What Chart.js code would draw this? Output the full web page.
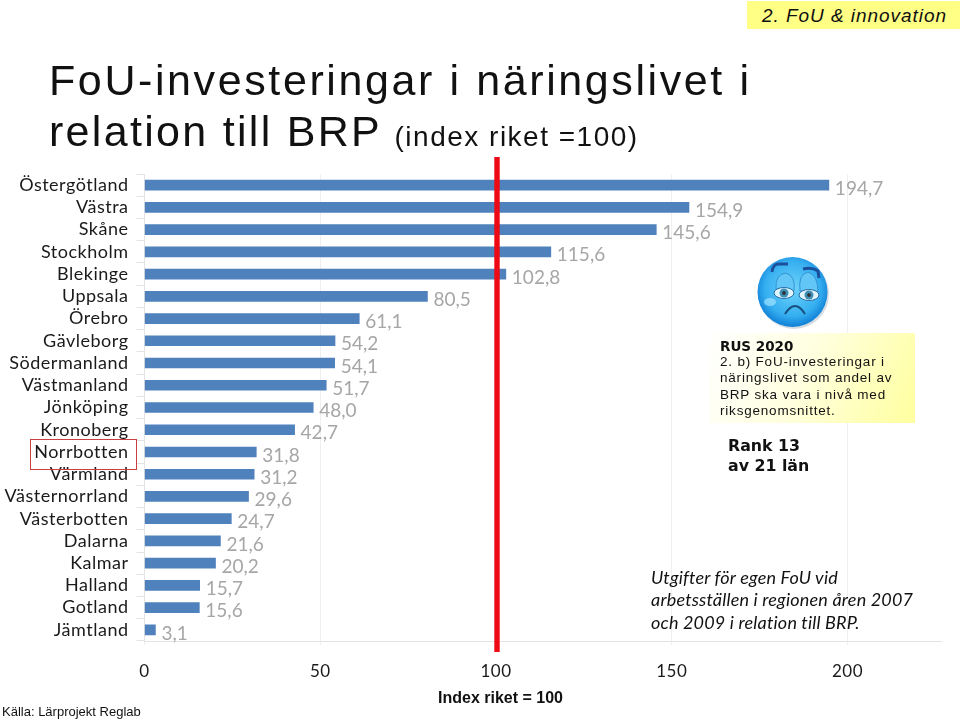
<!DOCTYPE html>
<html lang="sv">
<head>
<meta charset="utf-8">
<title>FoU-investeringar i näringslivet</title>
<script src="https://cdn.jsdelivr.net/npm/chart.js@4"></script>
<style>
	html, body { margin: 0; padding: 0; background: #fff; width: 960px; height: 721px; overflow: hidden; }
	#myCanvas { position: absolute; left: 0; top: 0; }
	.txt { position: absolute; white-space: nowrap; font-family: "Liberation Sans", Arial, sans-serif; color: #111; }
	#section { left: 747px; top: 1px; width: 213px; height: 28px; background: #ffff85; font-style: italic; font-size: 19px; line-height: 29px; letter-spacing: 0.95px; text-indent: 15px; }
	#title1 { left: 49px; top: 55px; font-size: 43px; line-height: 50px; letter-spacing: 2.6px; }
	#title2 { left: 49px; top: 106px; font-size: 43px; line-height: 50px; letter-spacing: 2.3px; }
	#title2 span { font-size: 28px; letter-spacing: 1.5px; margin-left: -1px; }
	#rus { left: 709px; top: 333px; width: 206px; height: 90px; background: linear-gradient(115deg, #ffffff 0%, #ffffe0 45%, #ffff9f 100%); }
	#rusHead { left: 720px; top: 338px; font-family: "DejaVu Sans", sans-serif; font-weight: bold; font-size: 13.5px; line-height: 17px; }
	#rusText { left: 720px; top: 354px; font-size: 13.5px; line-height: 16.4px; letter-spacing: 0.8px; }
	#rank { left: 728px; top: 436px; font-family: "DejaVu Sans", sans-serif; font-weight: bold; font-size: 15.8px; line-height: 20px; }
	#note { left: 651px; top: 566px; font-family: Lato, sans-serif; font-style: italic; font-size: 18px; line-height: 22.4px; letter-spacing: 0.18px; color: #111; }
	#indexRiket { left: 438px; top: 689px; font-weight: bold; font-size: 16px; line-height: 18px; }
	#source { left: 2px; top: 704px; font-size: 13px; line-height: 16px; }
	#smiley { position: absolute; left: 752px; top: 252px; }
	#redBox { position: absolute; left: 30px; top: 439px; width: 105px; height: 29px; border: 1.5px solid #c9403f; }
</style>
</head>
<body>
<canvas id="myCanvas" width="960" height="721"></canvas>

<div class="txt" id="section">2. FoU &amp; innovation</div>
<div class="txt" id="title1">FoU-investeringar i näringslivet i</div>
<div class="txt" id="title2">relation till BRP <span>(index riket =100)</span></div>
<div class="txt" id="rus"></div>
<div class="txt" id="rusHead">RUS 2020</div>
<div class="txt" id="rusText">2. b) FoU-investeringar i<br>näringslivet som andel av<br>BRP ska vara i nivå med<br>riksgenomsnittet.</div>
<div class="txt" id="rank">Rank 13<br>av 21 län</div>
<div class="txt" id="note">Utgifter för egen FoU vid<br>arbetsställen i regionen åren 2007<br>och 2009 i relation till BRP.</div>
<div class="txt" id="indexRiket">Index riket = 100</div>
<div class="txt" id="source">Källa: Lärprojekt Reglab</div>
<div id="redBox"></div>

<svg id="smiley" width="84" height="84" viewBox="0 0 84 84">
	<defs>
		<radialGradient id="faceFill" cx="50%" cy="45%" r="55%">
			<stop offset="0%" stop-color="#6fd4fb"/>
			<stop offset="72%" stop-color="#35aef0"/>
			<stop offset="100%" stop-color="#0f7fd6"/>
		</radialGradient>
	</defs>
	<circle cx="42" cy="42" r="35" fill="#8a9aa8" opacity="0.35"/>
	<circle cx="40.5" cy="40" r="35" fill="url(#faceFill)"/>
	<ellipse cx="18" cy="50" rx="6" ry="4" fill="#9fe3ff" opacity="0.7"/>
	<path d="M24 37 Q23 22 34 21 Q44 24 42 39Z" fill="#62c6f6" stroke="#2a86cc" stroke-width="0.8"/>
	<path d="M48 39 Q46 22 56 20 Q66 23 66 40Z" fill="#62c6f6" stroke="#2a86cc" stroke-width="0.8"/>
	<path d="M20 20 Q21 11 28 12 L36 12" fill="none" stroke="#1b4f9c" stroke-width="3"/>
	<path d="M51 17 Q60 15 66 19 L67 26" fill="none" stroke="#1b4f9c" stroke-width="3"/>
	<ellipse cx="32" cy="41" rx="10" ry="5.5" fill="#dff4fb" stroke="#2a6ea5" stroke-width="1"/>
	<ellipse cx="57" cy="43" rx="10" ry="5.5" fill="#dff4fb" stroke="#2a6ea5" stroke-width="1"/>
	<circle cx="32" cy="41" r="4.5" fill="#3f8fb5"/>
	<circle cx="57" cy="43" r="4.5" fill="#3f8fb5"/>
	<circle cx="32" cy="41" r="1.9" fill="#333"/>
	<circle cx="57" cy="43" r="1.9" fill="#333"/>
	<path d="M33 62 Q43 46 53 62" fill="none" stroke="#17507f" stroke-width="2"/>
</svg>

<script>
const regions = [
	"Östergötland",
	"Västra",
	"Skåne",
	"Stockholm",
	"Blekinge",
	"Uppsala",
	"Örebro",
	"Gävleborg",
	"Södermanland",
	"Västmanland",
	"Jönköping",
	"Kronoberg",
	"Norrbotten",
	"Värmland",
	"Västernorrland",
	"Västerbotten",
	"Dalarna",
	"Kalmar",
	"Halland",
	"Gotland",
	"Jämtland",
];
const indexValues = [
	194.7, 154.9, 145.6, 115.6, 102.8, 80.5, 61.1, 54.2, 54.1, 51.7, 48.0,
	42.7, 31.8, 31.2, 29.6, 24.7, 21.6, 20.2, 15.7, 15.6, 3.1,
];
const riket = 100;

// category labels are tracked out a bit in the original
const letterSpacing = {
	id: "letterSpacing",
	beforeDraw(chart) {
		chart.ctx.letterSpacing = "0.5px";
	},
};

// value labels (with decimal comma) and the red line at riket = 100
const overlay = {
	id: "overlay",
	afterDatasetsDraw(chart) {
		const ctx = chart.ctx;
		const x = chart.scales.x;
		const y = chart.scales.y;
		ctx.save();
		ctx.letterSpacing = "0px";
		ctx.font = '19px Lato, sans-serif';
		ctx.fillStyle = "#a6a6a6";
		ctx.textAlign = "left";
		ctx.textBaseline = "middle";
		indexValues.forEach(function (value, i) {
			const label = value.toFixed(1).replace(".", ",");
			ctx.fillText(label, x.getPixelForValue(value) + 6, y.getPixelForValue(i) + 3.5);
		});
		ctx.strokeStyle = "#ee0a14";
		ctx.lineWidth = 5.4;
		ctx.beginPath();
		ctx.moveTo(x.getPixelForValue(riket) + 1, 157);
		ctx.lineTo(x.getPixelForValue(riket) + 1, 652);
		ctx.stroke();
		ctx.restore();
	},
};

const ctx = document.getElementById("myCanvas").getContext("2d");
const myChart = new Chart(ctx, {
	type: "bar",
	data: {
		labels: regions,
		datasets: [
			{
				label: "Index riket = 100",
				data: indexValues,
				backgroundColor: "#4f81bd",
				barThickness: 10,
			},
		],
	},
	plugins: [letterSpacing, overlay],
	options: {
		indexAxis: "y",
		responsive: false,
		animation: false,
		layout: {
			padding: { left: 0, right: 18.3, top: 174, bottom: 0 },
		},
		plugins: {
			legend: { display: false },
			tooltip: { enabled: false },
		},
		scales: {
			x: {
				type: "linear",
				min: 0,
				max: 226.8,
				afterFit: function (scale) {
					scale.height = 80;
				},
				grid: { color: "#efefef", tickLength: 4 },
				border: { color: "#e4e4e4" },
				ticks: {
					stepSize: 50,
					includeBounds: false,
					maxRotation: 0,
					padding: 16,
					color: "#1a1a1a",
					font: { family: "Lato, sans-serif", size: 17 },
				},
			},
			y: {
				afterFit: function (scale) {
					scale.width = 144.5;
				},
				grid: { color: "#e4e4e4", drawOnChartArea: false, tickLength: 8 },
				border: { color: "#e4e4e4" },
				ticks: {
					autoSkip: false,
					padding: 8,
					color: "#1a1a1a",
					font: { family: "Lato, sans-serif", size: 18 },
				},
			},
		},
	},
});
</script>
</body>
</html>
